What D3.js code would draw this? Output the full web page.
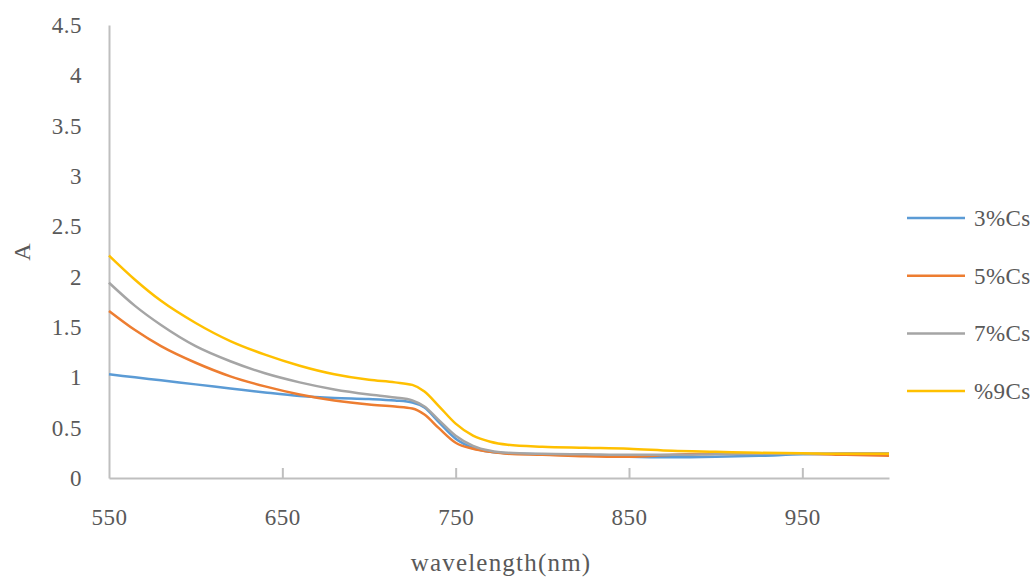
<!DOCTYPE html>
<html>
<head>
<meta charset="utf-8">
<script src="https://cdn.jsdelivr.net/npm/d3@7"></script>
<style>
  html, body { margin: 0; padding: 0; background: #fff; }
  svg text { font-family: "Liberation Serif", "DejaVu Serif", serif; fill: #595959; }
</style>
</head>
<body>
<svg id="chart" width="1034" height="578"></svg>
<script>
// Absorbance spectra of Cs-doped samples
const wavelengths = [550, 565, 580, 600, 620, 640, 660, 680, 700, 715, 725, 732, 740, 750, 760, 770, 780, 800, 825, 850, 875, 900, 925, 950, 975, 1000];
const cs3 = [1.03, 1.00, 0.97, 0.93, 0.89, 0.85, 0.815, 0.795, 0.785, 0.77, 0.75, 0.70, 0.56, 0.39, 0.30, 0.26, 0.245, 0.235, 0.225, 0.21, 0.205, 0.21, 0.22, 0.235, 0.24, 0.24];
const cs5 = [1.66, 1.47, 1.31, 1.145, 1.01, 0.91, 0.83, 0.77, 0.73, 0.71, 0.69, 0.63, 0.50, 0.35, 0.29, 0.26, 0.24, 0.23, 0.215, 0.21, 0.23, 0.24, 0.24, 0.24, 0.23, 0.22];
const cs7 = [1.94, 1.71, 1.52, 1.31, 1.16, 1.04, 0.95, 0.88, 0.83, 0.80, 0.77, 0.71, 0.58, 0.42, 0.32, 0.27, 0.25, 0.24, 0.235, 0.23, 0.23, 0.235, 0.24, 0.24, 0.245, 0.245];
const cs9 = [2.21, 1.97, 1.76, 1.54, 1.36, 1.225, 1.115, 1.03, 0.975, 0.95, 0.925, 0.86, 0.72, 0.54, 0.42, 0.36, 0.33, 0.31, 0.30, 0.29, 0.27, 0.26, 0.25, 0.245, 0.24, 0.24];
const seriesNames = ["3%Cs", "5%Cs", "7%Cs", "%9Cs"];
const seriesColors = ["#5B9BD5", "#ED7D31", "#A5A5A5", "#FFC000"];
const xTicks = [550, 650, 750, 850, 950];
const yTicks = [0, 0.5, 1, 1.5, 2, 2.5, 3, 3.5, 4, 4.5];

const series = [cs3, cs5, cs7, cs9].map((vals, i) => ({
  name: seriesNames[i],
  color: seriesColors[i],
  points: wavelengths.map((w, j) => ({ x: w, y: vals[j] }))
}));

const svg = d3.select("#chart");
const plot = { left: 109, right: 889, top: 25, bottom: 478 };

const x = d3.scaleLinear().domain([550, 1000]).range([plot.left, plot.right]);
const y = d3.scaleLinear().domain([0, 4.5]).range([plot.bottom, plot.top]);

const axisColor = "#BFBFBF";

// y axis line and labels
const yAxis = svg.append("g").attr("transform", `translate(${plot.left},0)`)
  .call(d3.axisLeft(y).tickValues(yTicks).tickSize(0).tickPadding(27).tickFormat(d => String(d)));
yAxis.select(".domain").attr("stroke", axisColor).attr("stroke-width", 2);
yAxis.selectAll("text").style("font-size", "23px").style("letter-spacing", "0.5px")
  .attr("fill", "#595959").style("font-family", "'Liberation Serif', serif");

// x axis with inward ticks
const xAxis = svg.append("g").attr("transform", `translate(0,${plot.bottom})`)
  .call(d3.axisBottom(x).tickValues(xTicks).tickSizeInner(-10).tickSizeOuter(0).tickPadding(31).tickFormat(d => String(d)));
xAxis.select(".domain").attr("stroke", axisColor).attr("stroke-width", 2);
xAxis.selectAll(".tick line").attr("stroke", axisColor).attr("stroke-width", 2)
  .attr("display", d => d === 550 ? "none" : null);
xAxis.selectAll("text").style("font-size", "23px").style("letter-spacing", "0.5px")
  .attr("fill", "#595959").style("font-family", "'Liberation Serif', serif");

// curves
const line = d3.line().x(d => x(d.x)).y(d => y(d.y)).curve(d3.curveMonotoneX);
svg.append("g").selectAll("path").data(series).join("path")
  .attr("d", d => line(d.points))
  .attr("fill", "none")
  .attr("stroke", d => d.color)
  .attr("stroke-width", 2.5)
  .attr("stroke-linejoin", "round");

// axis titles
svg.append("text").attr("x", 501).attr("y", 571).attr("text-anchor", "middle")
  .style("font-size", "25px").style("letter-spacing", "1.2px").text("wavelength(nm)");
svg.append("text").attr("transform", "translate(30,252) rotate(-90)").attr("text-anchor", "middle")
  .style("font-size", "24px").text("A");

// legend
const legend = svg.append("g").selectAll("g").data(series).join("g")
  .attr("transform", (d, i) => `translate(907,${218 + i * 57.7})`);
legend.append("line").attr("x1", 0).attr("x2", 58).attr("y1", 0).attr("y2", 0)
  .attr("stroke", d => d.color).attr("stroke-width", 2.5);
legend.append("text").attr("x", 67).attr("y", 8).style("font-size", "23px")
  .style("letter-spacing", "0.4px").text(d => d.name);
</script>
</body>
</html>
